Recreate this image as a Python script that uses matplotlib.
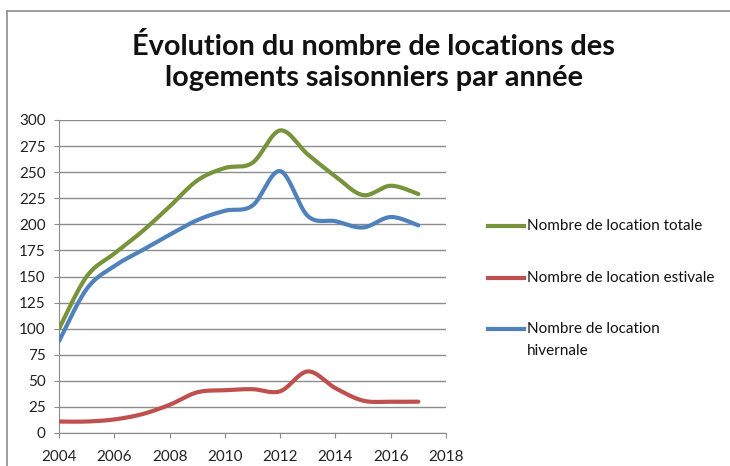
import numpy as np
import matplotlib.pyplot as plt
from matplotlib.lines import Line2D

# data
years = [2004, 2005, 2006, 2007, 2008, 2009, 2010, 2011, 2012, 2013, 2014, 2015, 2016, 2017]
totale = [100, 150, 172, 193, 217, 242, 254, 259, 290, 267, 246, 228, 237, 229]
estivale = [11, 11, 13, 18, 27, 39, 41, 42, 40, 59, 43, 31, 30, 30]
hivernale = [88, 138, 160, 175, 190, 204, 213, 218, 251, 208, 203, 197, 207, 199]

labels = ["Nombre de location totale", "Nombre de location estivale",
          "Nombre de location\nhivernale"]
colors = ["#77933C", "#C0504D", "#4F81BD"]


def smooth(x, y, n=30):
    # Excel-like smoothed line (Catmull-Rom through the points)
    x = np.asarray(x, float)
    y = np.asarray(y, float)
    px = np.concatenate([[x[0]], x, [x[-1]]])
    py = np.concatenate([[y[0]], y, [y[-1]]])
    xs, ys = [], []
    t = np.linspace(0, 1, n)
    for i in range(1, len(px) - 2):
        p0, p1, p2, p3 = [np.array([px[j], py[j]]) for j in range(i - 1, i + 3)]
        c1 = p1 + (p2 - p0) / 6
        c2 = p2 - (p3 - p1) / 6
        pts = ((1 - t) ** 3)[:, None] * p1 + (3 * (1 - t) ** 2 * t)[:, None] * c1 \
            + (3 * (1 - t) * t ** 2)[:, None] * c2 + (t ** 3)[:, None] * p2
        xs.extend(pts[:, 0])
        ys.extend(pts[:, 1])
    return np.array(xs), np.array(ys)


plt.rcParams['font.family'] = ['Lato', 'DejaVu Sans']

W, H = 730, 466
fig = plt.figure(figsize=(7.3, 4.66), dpi=100)
ax = fig.add_axes([59 / W, 33 / H, 387 / W, 313 / H])

for vals, c in zip([totale, estivale, hivernale], colors):
    sx, sy = smooth(years, vals)
    ax.plot(sx, sy, color=c, lw=3, solid_capstyle='round', zorder=3)

ax.set_xlim(2004, 2018)
ax.set_ylim(0, 300)
ax.set_xticks(range(2004, 2019, 2))
ax.set_yticks(range(0, 301, 25))
ax.grid(axis='y', color='#8C8C8C', lw=1)
ax.set_axisbelow(True)
for s in ['top', 'right']:
    ax.spines[s].set_visible(False)
for s in ['left', 'bottom']:
    ax.spines[s].set_color('#8C8C8C')
ax.tick_params(axis='both', colors='#8C8C8C', labelcolor='#222222', labelsize=11,
               length=3.5, direction='out')
ax.tick_params(axis='y', pad=6)
ax.tick_params(axis='x', pad=9)

fig.text(0.512, 0.867, "Évolution du nombre de locations des\nlogements saisonniers par année",
         ha='center', va='center', fontsize=20.8, fontweight='bold', linespacing=1.28,
         color='#111111')

# legend drawn by hand so the two-line entry keeps its line on the first row
leg_y = [226, 278, 329]
for lab, c, yy in zip(labels, colors, leg_y):
    fy = 1 - yy / H
    fig.add_artist(Line2D([488 / W, 524 / W], [fy, fy], color=c, lw=3))
    fig.text(527 / W, fy, lab.split("\n")[0], ha='left', va='center', fontsize=11,
             color='#111111')
    if "\n" in lab:
        fig.text(527 / W, 1 - (yy + 22) / H, lab.split("\n")[1], ha='left', va='center',
                 fontsize=11, color='#111111')

# chart border
fig.add_artist(Line2D([6.5 / W, 6.5 / W], [0, 1 - 10.5 / H], color='#8C8C8C', lw=1.2))
fig.add_artist(Line2D([6.5 / W, 1], [1 - 10.5 / H, 1 - 10.5 / H], color='#8C8C8C', lw=1.2))

fig.savefig('out.png', dpi=100)
